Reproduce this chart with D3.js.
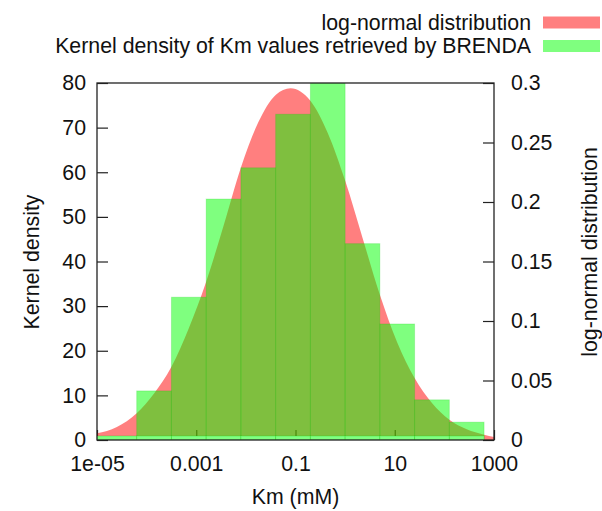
<!DOCTYPE html>
<html lang="en">
<head>
<meta charset="UTF-8">
<title>Km distribution</title>
<style>
  body { margin:0; background:#fff; }
  svg text { font-family: "Liberation Sans", Arial, sans-serif; font-size:21.3px; fill:#111; }
</style>
</head>
<body>
<script src="https://d3js.org/d3.v7.min.js"></script>
<script>
// histogram of Km values (log10 bin edges) and kernel density per bin
var binEdgesLog10 = [-4.2, -3.5, -2.8, -2.1, -1.4, -0.7, 0, 0.7, 1.4, 2.1, 2.8];
var kernelDensity = [11, 32, 54, 61, 73, 80, 44, 26, 9, 4];
// thin strip along the baseline
var baseStripEdgesLog10 = [-5, -4.2, -3.5, -2.8, -2.1, -1.4, -0.7, 0, 0.7, 1.4, 2.1, 2.8];
var baseStripValue = 0.9;

// log-normal curve (x as log10 Km, y on right axis)
var curveLog10 = [-5, -4.6, -4.2, -3.85, -3.5, -3.15, -2.8, -2.45, -2.1, -1.75, -1.4, -1.1,
                  -0.7, -0.35, 0, 0.35, 0.7, 1.05, 1.4, 1.75, 2.1, 2.45, 2.8, 3];
var lognormal = [0.0056, 0.011, 0.0225, 0.039, 0.0615, 0.094, 0.133, 0.180, 0.229, 0.267, 0.290, 0.2955,
                 0.285, 0.258, 0.218, 0.170, 0.122, 0.082, 0.052, 0.031, 0.017, 0.009, 0.0045, 0.0025];

var xTicks = [1e-5, 1e-3, 1e-1, 10, 1000];
var xTickLabels = ['1e-05', '0.001', '0.1', '10', '1000'];
var leftTicks = [0, 10, 20, 30, 40, 50, 60, 70, 80];
var rightTicks = [0, 0.05, 0.1, 0.15, 0.2, 0.25, 0.3];
var rightTickLabels = ['0', '0.05', '0.1', '0.15', '0.2', '0.25', '0.3'];

var width = 602, height = 511,
    pL = 97, pR = 494, pT = 83, pB = 440;

var svg = d3.select('body').append('svg')
    .attr('width', width)
    .attr('height', height);

var xScale = d3.scaleLog().domain([1e-5, 1000]).range([pL, pR]);
var yLeft = d3.scaleLinear().domain([0, 80]).range([pB, pT]);
var yRight = d3.scaleLinear().domain([0, 0.3]).range([pB, pT]);
function px(l) { return xScale(Math.pow(10, l)); }

svg.append('clipPath').attr('id', 'plot')
  .append('rect')
    .attr('x', pL).attr('y', pT)
    .attr('width', pR - pL).attr('height', pB - pT);

// axes (ticks inward)
var xAxis = d3.axisBottom(xScale).tickValues(xTicks)
    .tickFormat(function(d, i) { return xTickLabels[i]; })
    .tickSize(-10).tickPadding(16);
var gx = svg.append('g').attr('transform', 'translate(0,' + pB + ')').call(xAxis);

var gl = svg.append('g').attr('transform', 'translate(' + pL + ',0)')
    .call(d3.axisLeft(yLeft).tickValues(leftTicks).tickSize(-11).tickPadding(11));

var gr = svg.append('g').attr('transform', 'translate(' + pR + ',0)')
    .call(d3.axisRight(yRight).tickValues(rightTicks)
        .tickFormat(function(d, i) { return rightTickLabels[i]; })
        .tickSize(-11).tickPadding(17));

[gx, gl, gr].forEach(function(g) {
    g.select('.domain').remove();
    g.selectAll('line').attr('stroke', '#222').attr('stroke-width', 1.2);
    g.selectAll('text').style('font-size', '21.3px').attr('fill', '#111')
        .style('font-family', '"Liberation Sans", Arial, sans-serif');
});

var plot = svg.append('g').attr('clip-path', 'url(#plot)');

// log-normal area
var area = d3.area()
    .x(function(d, i) { return px(curveLog10[i]); })
    .y0(pB)
    .y1(function(d) { return yRight(d); })
    .curve(d3.curveMonotoneX);

plot.append('path')
    .datum(lognormal)
    .attr('d', area)
    .attr('fill', 'rgba(255,0,0,0.5)');

// kernel density bars
plot.selectAll('rect.bar')
    .data(kernelDensity)
    .enter().append('rect')
    .attr('class', 'bar')
    .attr('x', function(d, i) { return px(binEdgesLog10[i]); })
    .attr('width', function(d, i) { return px(binEdgesLog10[i + 1]) - px(binEdgesLog10[i]); })
    .attr('y', function(d) { return yLeft(d); })
    .attr('height', function(d) { return pB - yLeft(d); })
    .attr('fill', 'rgba(0,255,0,0.5)')
    .attr('stroke', 'rgba(0,200,0,0.2)')
    .attr('stroke-width', 1);

plot.selectAll('rect.strip')
    .data(baseStripEdgesLog10.slice(1))
    .enter().append('rect')
    .attr('class', 'strip')
    .attr('x', function(d, i) { return px(baseStripEdgesLog10[i]); })
    .attr('width', function(d, i) { return px(d) - px(baseStripEdgesLog10[i]); })
    .attr('y', yLeft(baseStripValue))
    .attr('height', pB - yLeft(baseStripValue))
    .attr('fill', '#80ff80')
    .attr('stroke', 'rgba(0,200,0,0.25)')
    .attr('stroke-width', 1);

// border
svg.append('rect')
    .attr('x', pL).attr('y', pT)
    .attr('width', pR - pL).attr('height', pB - pT)
    .attr('fill', 'none').attr('stroke', '#222').attr('stroke-width', 1.3);

// axis titles
svg.append('text')
    .attr('transform', 'translate(39,262) rotate(-90)')
    .attr('text-anchor', 'middle')
    .text('Kernel density');
svg.append('text')
    .attr('transform', 'translate(597,252) rotate(-90)')
    .attr('text-anchor', 'middle')
    .text('log-normal distribution');
svg.append('text')
    .attr('x', (pL + pR) / 2).attr('y', 504)
    .attr('text-anchor', 'middle')
    .text('Km (mM)');

// legend
var legend = [
    { label: 'log-normal distribution', color: 'rgba(255,0,0,0.5)' },
    { label: 'Kernel density of Km values retrieved by BRENDA', color: 'rgba(0,255,0,0.5)' }
];
var lg = svg.append('g');
legend.forEach(function(d, i) {
    var cy = 22.5 + i * 23.5;
    lg.append('text')
        .attr('x', 531).attr('y', cy + 7)
        .attr('text-anchor', 'end')
        .text(d.label);
    lg.append('rect')
        .attr('x', 543).attr('y', cy - 6)
        .attr('width', 57).attr('height', 12)
        .attr('fill', d.color);
});
</script>
</body>
</html>
